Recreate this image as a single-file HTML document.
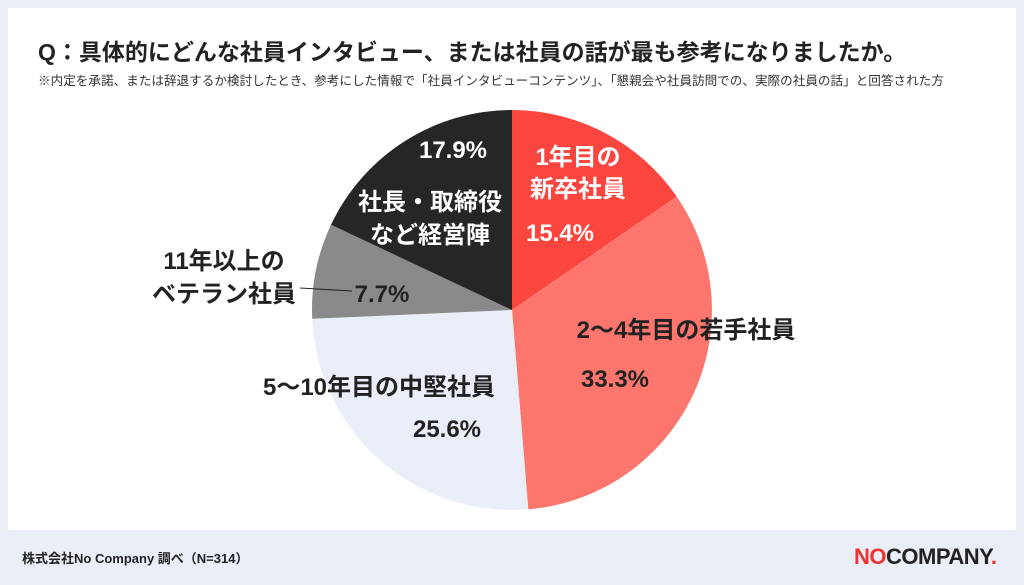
<!DOCTYPE html>
<html><head><meta charset="utf-8"><style>
body{margin:0;width:1024px;height:585px;background:#e9eef7;font-family:"Liberation Sans","Noto Sans CJK JP",sans-serif;overflow:hidden;position:relative}
.card{position:absolute;left:8px;top:8px;width:1008px;height:522px;background:#fff}
.t{position:absolute;left:38px;top:33px;font-size:23px;font-weight:bold;color:#222;white-space:nowrap}
.s{position:absolute;left:38px;top:70px;font-size:12.6px;color:#333;white-space:nowrap}
.f{position:absolute;left:22px;top:548px;font-size:13px;color:#222;font-weight:bold}
.logo{position:absolute;left:854px;top:544px;font-size:22px;font-weight:900;letter-spacing:-0.5px;color:#222;font-family:"Liberation Sans",sans-serif}
</style></head><body>
<div class="card"></div>
<div class="t">Q：具体的にどんな社員インタビュー、または社員の話が最も参考になりましたか。</div>
<div class="s">※内定を承諾、または辞退するか検討したとき、参考にした情報で「社員インタビューコンテンツ」、「懇親会や社員訪問での、実際の社員の話」と回答された方</div>
<svg width="1024" height="585" style="position:absolute;left:0;top:0" font-family="Liberation Sans,Noto Sans CJK JP,sans-serif" font-weight="bold">
<path d="M512,310 L512,110 A200,200 0 0 1 676.7,196.6 Z" fill="#fb4640"/>
<path d="M512,310 L676.7,196.6 A200,200 0 0 1 528.3,509.3 Z" fill="#fc766e"/>
<path d="M512,310 L528.3,509.3 A200,200 0 0 1 312.2,318.8 Z" fill="#e9eef8"/>
<path d="M512,310 L312.2,318.8 A200,200 0 0 1 331,224.8 Z" fill="#8a8a8a"/>
<path d="M512,310 L331,224.8 A200,200 0 0 1 512,110 Z" fill="#262626"/>
<g fill="#fff" font-size="24" text-anchor="middle">
<text x="578" y="165">1年目の</text>
<text x="578" y="197">新卒社員</text>
<text x="560" y="241">15.4%</text>
<text x="453" y="158">17.9%</text>
<text x="430" y="210">社長・取締役</text>
<text x="430" y="243">など経営陣</text>
</g>
<g fill="#222" font-size="24" text-anchor="middle">
<text x="686" y="338">2〜4年目の若手社員</text>
<text x="615" y="387">33.3%</text>
<text x="379" y="395">5〜10年目の中堅社員</text>
<text x="447" y="437">25.6%</text>
<text x="382" y="302">7.7%</text>
<text x="224" y="269">11年以上の</text>
<text x="224" y="302">ベテラン社員</text>
</g>
<line x1="300" y1="288" x2="352" y2="291" stroke="#222" stroke-width="1"/>
</svg>
<div class="f">株式会社No Company 調べ（N=314）</div>
<div class="logo"><span style="color:#e33">NO</span>COMPANY<span style="color:#e33">.</span></div>
</body></html>
